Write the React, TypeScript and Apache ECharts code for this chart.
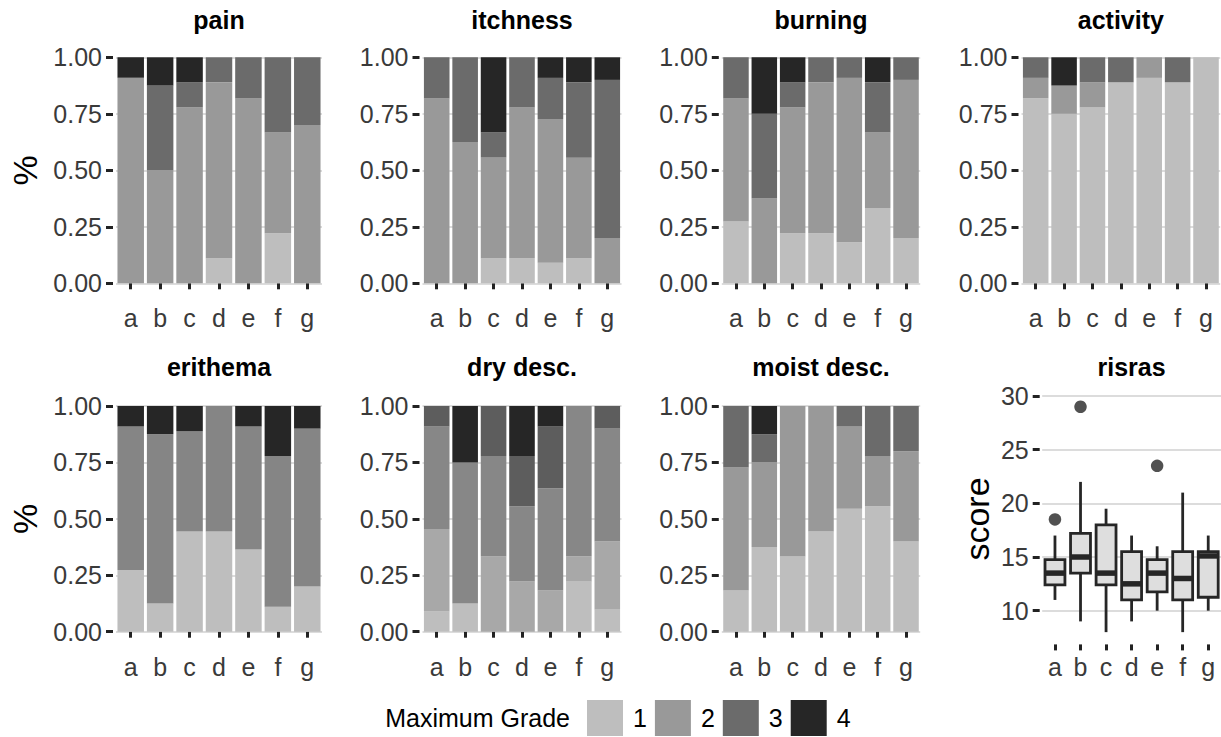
import React, { useEffect, useRef } from "react";
import * as echarts from "echarts";

// ---------- data ----------
const categories = ["a", "b", "c", "d", "e", "f", "g"];
const gradeNames = ["1", "2", "3", "4"];
const yTicks = [0, 0.25, 0.5, 0.75, 1];

// share of each grade per category (stacked from bottom)
const pain1 = [0, 0, 0, 0.111, 0, 0.222, 0];
const pain2 = [0.909, 0.5, 0.778, 0.778, 0.818, 0.445, 0.7];
const pain3 = [0, 0.375, 0.111, 0.111, 0.182, 0.333, 0.3];
const pain4 = [0.091, 0.125, 0.111, 0, 0, 0, 0];

const itch1 = [0, 0, 0.111, 0.111, 0.091, 0.111, 0];
const itch2 = [0.818, 0.625, 0.445, 0.667, 0.636, 0.445, 0.2];
const itch3 = [0.182, 0.375, 0.111, 0.222, 0.182, 0.333, 0.7];
const itch4 = [0, 0, 0.333, 0, 0.091, 0.111, 0.1];

const burn1 = [0.273, 0, 0.222, 0.222, 0.182, 0.333, 0.2];
const burn2 = [0.545, 0.375, 0.556, 0.667, 0.727, 0.334, 0.7];
const burn3 = [0.182, 0.375, 0.111, 0.111, 0.091, 0.222, 0.1];
const burn4 = [0, 0.25, 0.111, 0, 0, 0.111, 0];

const act1 = [0.818, 0.75, 0.778, 0.889, 0.909, 0.889, 1];
const act2 = [0.091, 0.125, 0.111, 0, 0.091, 0, 0];
const act3 = [0.091, 0, 0.111, 0.111, 0, 0.111, 0];
const act4 = [0, 0.125, 0, 0, 0, 0, 0];

const ery1 = [0.273, 0.125, 0.444, 0.444, 0.364, 0.111, 0.2];
const ery2 = [0.636, 0.75, 0.445, 0.556, 0.545, 0.667, 0.7];
const ery3 = [0.091, 0.125, 0.111, 0, 0.091, 0.222, 0.1];

const dry1 = [0.091, 0.125, 0, 0, 0, 0.222, 0.1];
const dry2 = [0.364, 0, 0.333, 0.222, 0.182, 0.111, 0.3];
const dry3 = [0.454, 0.625, 0.445, 0.334, 0.454, 0.667, 0.5];
const dry4 = [0.091, 0, 0.222, 0.222, 0.273, 0, 0.1];
const dry5 = [0, 0.25, 0, 0.222, 0.091, 0, 0];

const moist1 = [0.182, 0.375, 0.333, 0.444, 0.545, 0.556, 0.4];
const moist2 = [0.545, 0.375, 0.667, 0.556, 0.364, 0.222, 0.4];
const moist3 = [0.273, 0.125, 0, 0, 0.091, 0.222, 0.2];
const moist4 = [0, 0.125, 0, 0, 0, 0, 0];

// risras box plot
const risrasMin = [11, 9, 8, 9, 10, 8, 10];
const risrasQ1 = [12.4, 13.5, 12.4, 11, 11.75, 11, 11.25];
const risrasMedian = [13.5, 15, 13.5, 12.5, 13.5, 13, 15.1];
const risrasQ3 = [14.75, 17.2, 18, 15.5, 14.75, 15.5, 15.5];
const risrasMax = [17, 22, 19.5, 17, 16, 21, 17];
const risrasOutlierCats = ["a", "b", "e"];
const risrasOutlierValues = [18.5, 29, 23.5];
const risrasTicks = [10, 15, 20, 25, 30];

// ---------- styling ----------
const grey4 = ["#BEBEBE", "#999999", "#6B6B6B", "#262626"];
const grey3 = ["#BEBEBE", "#858585", "#262626"];
const grey5 = ["#BEBEBE", "#A8A8A8", "#878787", "#5D5D5D", "#262626"];

const FONT = "'Liberation Sans', Arial, Helvetica, sans-serif";
const GRID_COLOR = "#D0D0D0";
const TICK_COLOR = "#222222";
const LABEL_COLOR = "#3A3A3A";

const cols = [
  { left: 116, width: 206 },
  { left: 422.5, width: 199 },
  { left: 721.8, width: 198.4 },
  { left: 1021.5, width: 198.7 },
];
const rows = [
  { top: 57.3, height: 226 },
  { top: 406, height: 225.7 },
];

const barPanels = [
  { title: "pain", levels: [pain1, pain2, pain3, pain4], colors: grey4, col: 0, row: 0, legend: true },
  { title: "itchness", levels: [itch1, itch2, itch3, itch4], colors: grey4, col: 1, row: 0 },
  { title: "burning", levels: [burn1, burn2, burn3, burn4], colors: grey4, col: 2, row: 0 },
  { title: "activity", levels: [act1, act2, act3, act4], colors: grey4, col: 3, row: 0 },
  { title: "erithema", levels: [ery1, ery2, ery3], colors: grey3, col: 0, row: 1 },
  { title: "dry desc.", levels: [dry1, dry2, dry3, dry4, dry5], colors: grey5, col: 1, row: 1 },
  { title: "moist desc.", levels: [moist1, moist2, moist3, moist4], colors: grey4, col: 2, row: 1 },
];

function buildOption() {
  const grid: any[] = [];
  const xAxis: any[] = [];
  const yAxis: any[] = [];
  const series: any[] = [];
  const graphic: any[] = [];

  const tickLabel = { fontSize: 25, color: LABEL_COLOR, fontFamily: FONT };
  const xTick = { show: true, alignWithLabel: true, length: 6, lineStyle: { color: TICK_COLOR, width: 3 } };
  const yTick = { show: true, length: 7, lineStyle: { color: TICK_COLOR, width: 3 } };

  const titleText = (text: string, x: number, y: number) => ({
    type: "text",
    x,
    y,
    silent: true,
    style: {
      text,
      fontSize: 25,
      fontWeight: "bold",
      fontFamily: FONT,
      fill: "#000000",
      align: "center",
      verticalAlign: "middle",
      textAlign: "center",
      textVerticalAlign: "middle",
    },
  });

  barPanels.forEach((p, i) => {
    const c = cols[p.col];
    const r = rows[p.row];
    grid.push({ left: c.left, top: r.top, width: c.width, height: r.height });
    xAxis.push({
      type: "category",
      gridIndex: i,
      data: categories,
      offset: 12.5,
      axisLine: { show: false },
      axisTick: xTick,
      axisLabel: { ...tickLabel, margin: 10 },
      splitLine: { show: false },
    });
    yAxis.push({
      type: "value",
      gridIndex: i,
      min: yTicks[0],
      max: yTicks[yTicks.length - 1],
      interval: yTicks[1] - yTicks[0],
      offset: 3,
      axisLine: { show: false },
      axisTick: yTick,
      axisLabel: { ...tickLabel, margin: 11, formatter: (v: number) => v.toFixed(2) },
      splitLine: { show: true, lineStyle: { color: GRID_COLOR, width: 1.6 } },
    });
    p.levels.forEach((d, j) => {
      series.push({
        type: "bar",
        name: p.legend ? gradeNames[j] : p.title + " " + (j + 1),
        xAxisIndex: i,
        yAxisIndex: i,
        stack: "stack" + i,
        data: d,
        barWidth: "90%",
        itemStyle: { color: p.colors[j] },
        emphasis: { disabled: true },
        silent: true,
      });
    });
    graphic.push(titleText(p.title, c.left + c.width / 2, p.row === 0 ? 19.6 : 367.3));
  });

  // risras: display grid (axis 10..30) + data grid (expanded range)
  const rLeft = 1042.2;
  const rWidth = 178.8;
  const dispIdx = grid.length;
  grid.push({ left: rLeft, top: 396, width: rWidth, height: 214.7 });
  xAxis.push({ type: "category", gridIndex: dispIdx, data: categories, show: false });
  yAxis.push({
    type: "value",
    gridIndex: dispIdx,
    min: risrasTicks[0],
    max: risrasTicks[risrasTicks.length - 1],
    interval: risrasTicks[1] - risrasTicks[0],
    offset: 2.5,
    axisLine: { show: false },
    axisTick: yTick,
    axisLabel: { ...tickLabel, margin: 11 },
    splitLine: { show: true, lineStyle: { color: GRID_COLOR, width: 1.6 } },
  });
  const dataIdx = grid.length;
  grid.push({ left: rLeft, top: 395.5, width: rWidth, height: 247.9 });
  xAxis.push({
    type: "category",
    gridIndex: dataIdx,
    data: categories,
    offset: 1,
    axisLine: { show: false },
    axisTick: xTick,
    axisLabel: { ...tickLabel, margin: 10 },
    splitLine: { show: false },
  });
  yAxis.push({ type: "value", gridIndex: dataIdx, min: 6.95, max: 30.05, show: false, splitLine: { show: false } });

  series.push({
    type: "custom",
    name: "risras",
    xAxisIndex: dataIdx,
    yAxisIndex: dataIdx,
    silent: true,
    data: categories.map((_, i) => [i, risrasMin[i], risrasQ1[i], risrasMedian[i], risrasQ3[i], risrasMax[i]]),
    encode: { x: 0, y: [1, 2, 3, 4, 5] },
    renderItem: (params: any, api: any) => {
      const x = api.value(0);
      const lo = api.coord([x, api.value(1)]);
      const q1 = api.coord([x, api.value(2)]);
      const md = api.coord([x, api.value(3)]);
      const q3 = api.coord([x, api.value(4)]);
      const hi = api.coord([x, api.value(5)]);
      const half = api.size([1, 0])[0] * 0.39;
      const stroke = "#262626";
      return {
        type: "group",
        children: [
          { type: "line", shape: { x1: lo[0], y1: lo[1], x2: q1[0], y2: q1[1] }, style: { stroke, lineWidth: 2.8 } },
          { type: "line", shape: { x1: q3[0], y1: q3[1], x2: hi[0], y2: hi[1] }, style: { stroke, lineWidth: 2.8 } },
          {
            type: "rect",
            shape: { x: q1[0] - half, y: q3[1], width: half * 2, height: q1[1] - q3[1] },
            style: { fill: "#DEDEDE", stroke, lineWidth: 2.8 },
          },
          {
            type: "line",
            shape: { x1: md[0] - half, y1: md[1], x2: md[0] + half, y2: md[1] },
            style: { stroke, lineWidth: 5.5 },
          },
        ],
      };
    },
  });
  series.push({
    type: "scatter",
    name: "outliers",
    xAxisIndex: dataIdx,
    yAxisIndex: dataIdx,
    silent: true,
    symbol: "circle",
    symbolSize: 12.5,
    itemStyle: { color: "#262626" },
    data: risrasOutlierCats.map((c, k) => [c, risrasOutlierValues[k]]),
  });
  graphic.push(titleText("risras", rLeft + rWidth / 2, 367.3));

  // axis titles
  const axisTitle = (text: string, x: number, y: number) => ({
    type: "text",
    x,
    y,
    rotation: Math.PI / 2,
    silent: true,
    style: {
      text,
      fontSize: 34,
      fontFamily: FONT,
      fill: "#000000",
      align: "center",
      verticalAlign: "middle",
      textAlign: "center",
      textVerticalAlign: "middle",
    },
  });
  graphic.push(axisTitle("%", 25, 170.3));
  graphic.push(axisTitle("%", 25, 519));
  graphic.push(axisTitle("score", 977, 519));

  // legend title
  graphic.push({
    type: "text",
    x: 570,
    y: 718,
    silent: true,
    style: {
      text: "Maximum Grade",
      fontSize: 25,
      fontFamily: FONT,
      fill: "#000000",
      align: "right",
      verticalAlign: "middle",
      textAlign: "right",
      textVerticalAlign: "middle",
    },
  });

  return {
    animation: false,
    backgroundColor: "#FFFFFF",
    textStyle: { fontFamily: FONT },
    grid,
    xAxis,
    yAxis,
    series,
    graphic,
    legend: {
      data: gradeNames,
      left: 587,
      top: 700,
      itemWidth: 36,
      itemHeight: 36,
      itemGap: 8,
      icon: "rect",
      selectedMode: false,
      padding: 0,
      textStyle: { fontSize: 25, color: "#000000", fontFamily: FONT, padding: [0, 0, 0, 5] },
    },
  };
}

export default function App() {
  const ref = useRef<HTMLDivElement>(null);
  useEffect(() => {
    if (!ref.current) return;
    const chart = echarts.init(ref.current, undefined, { renderer: "svg" });
    chart.setOption(buildOption() as any);
    return () => chart.dispose();
  }, []);
  return (
    <div
      ref={ref}
      style={{ position: "absolute", left: 0, top: 0, width: 1221, height: 737, background: "#fff" }}
    />
  );
}
